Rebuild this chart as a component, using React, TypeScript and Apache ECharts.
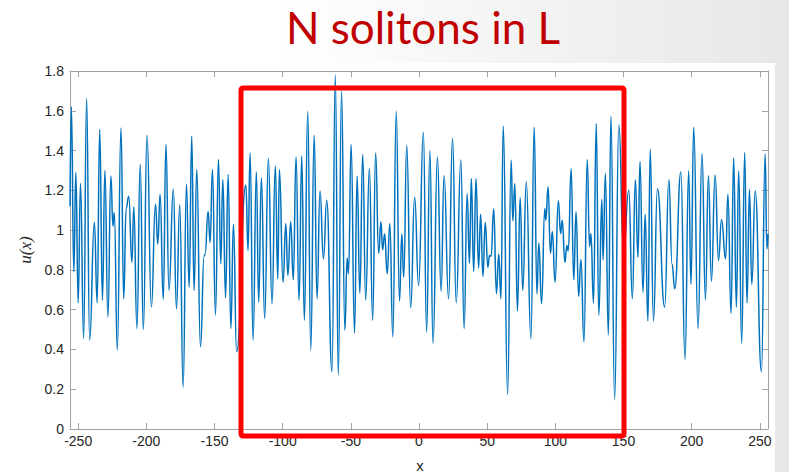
import React, { useEffect, useRef } from "react";
import * as echarts from "echarts";

const titleText = "N solitons in L";
const xAxisName = "x";
const yAxisName = "u(x)";

const xTicks = [-250, -200, -150, -100, -50, 0, 50, 100, 150, 200, 250];
const yTicks = [0, 0.2, 0.4, 0.6, 0.8, 1, 1.2, 1.4, 1.6, 1.8];

// positions (x) of the read extrema of u(x)
const xValues = [
  -256, -255, -253.2, -251.7, -250, -248.3, -246, -243.8, -241.6, -238.1,
  -236.1, -234.2, -232.2, -230.4, -228.2, -226, -224.5, -223.5, -221.3, -218.6,
  -216.6, -214.8, -212.9, -210.6, -209.2, -206.9, -204.5, -202.2, -199.5, -196.3,
  -193.3, -191.6, -189.9, -187.6, -185.6, -183.4, -180.2, -177.9, -175.5, -173,
  -170.6, -168.6, -166.7, -165, -163, -160.3, -157.6, -156.9, -154.7, -153.2,
  -151.5, -149.3, -147.1, -145.4, -143.9, -141.9, -140, -138, -136.1, -133.8,
  -127, -125.4, -123.9, -121.7, -119.3, -117.6, -115.6, -113.2, -110.5, -107.8,
  -105.4, -103.6, -102.4, -99.7, -97.7, -96.2, -94.1, -92.2, -90.2, -88,
  -86, -84.1, -81.6, -79.4, -76.9, -74.8, -72.6, -70.1, -67.7, -63.8,
  -61.4, -59.2, -56.8, -54.4, -52.7, -51.7, -49.8, -47.3, -45.4, -43.4,
  -41.3, -39.1, -36.4, -34, -31.8, -29.6, -27.9, -26.7, -25.2, -23.3,
  -21.4, -19.2, -16.7, -14.3, -12.6, -11.2, -9, -6.1, -3.2, -0.3,
  3.2, 5.6, 8, 10.3, 13.5, 16.2, 18.4, 21.7, 24.6, 27.3,
  30.7, 33.1, 35.3, 37, 38.4, 40.1, 41.8, 43.7, 45.2, 46.9,
  48.6, 50.5, 51.7, 52.9, 54.8, 56.8, 58.5, 60.1, 61.8, 65,
  67.6, 68.8, 70.3, 72.2, 74.2, 76.1, 78.7, 82.1, 84.5, 86.5,
  87.9, 89.9, 92.3, 93, 94.7, 96.4, 97.8, 99.8, 102.2, 103.9,
  105.1, 107, 108.5, 109.5, 111.6, 113.5, 115.2, 117.1, 118.8, 121,
  123.4, 125.1, 126.1, 128, 130, 131.9, 134.1, 135, 136.7, 138.9,
  140.8, 143.5, 146.6, 150, 153.9, 156.5, 158.7, 160.6, 162.1, 164.3,
  165.9, 167.9, 169.6, 172, 174.9, 180.2, 183.3, 185.6, 187.6, 192.1,
  195.1, 197.8, 199.5, 201.5, 204.7, 207.6, 210.1, 212.3, 214.5, 217.2,
  219.7, 221.9, 224.9, 226.6, 228.9, 230.8, 232.8, 234.5, 236.7, 238.9,
  240.6, 242.4, 244.1, 246.6, 251.2, 253.9, 255.2, 256,
];

// u(x) at those positions
const uValues = [
  1.12, 1.62, 0.79, 1.29, 0.635, 1.235, 0.455, 1.663, 0.447, 1.04,
  0.635, 1.505, 0.647, 1.3, 0.563, 1.272, 1.02, 1.088, 0.397, 1.513,
  0.655, 1.11, 1.17, 0.838, 1.118, 0.505, 1.33, 0.5, 1.477, 0.613,
  1.13, 0.93, 1.18, 0.652, 1.43, 0.697, 1.205, 0.605, 1.127, 0.21,
  1.23, 0.713, 1.472, 0.697, 1.305, 0.413, 0.87, 0.88, 1.093, 0.938,
  1.305, 0.572, 1.355, 0.83, 1.255, 0.66, 1.28, 0.505, 1.03, 0.388,
  1.227, 0.897, 1.388, 0.447, 1.292, 0.638, 1.263, 0.555, 1.36, 0.63,
  1.322, 0.755, 1.305, 0.738, 1.033, 0.772, 1.042, 0.75, 1.367, 0.647,
  1.372, 0.547, 1.597, 0.397, 1.477, 0.655, 1.197, 0.855, 1.15, 0.288,
  1.78, 0.272, 1.7, 0.497, 0.86, 0.78, 1.43, 0.483, 1.272, 0.683,
  1.38, 0.647, 1.31, 0.547, 1.388, 0.883, 1.042, 0.9, 0.98, 0.78,
  1.033, 0.463, 1.597, 0.643, 0.98, 0.763, 1.425, 0.61, 1.167, 0.722,
  1.492, 0.488, 1.4, 0.43, 1.368, 0.693, 1.275, 0.655, 1.46, 0.635,
  1.352, 0.505, 1.183, 0.833, 1.26, 0.792, 1.26, 0.81, 1.08, 0.767,
  1.038, 0.813, 0.872, 0.868, 1.107, 0.68, 0.88, 0.655, 1.522, 0.175,
  1.352, 1.047, 1.233, 0.593, 1.163, 0.697, 1.243, 0.455, 1.517, 0.68,
  0.935, 0.63, 1.11, 1.05, 1.217, 0.883, 0.993, 0.738, 1.147, 0.983,
  1.05, 0.838, 0.922, 0.895, 1.31, 0.75, 1.092, 0.667, 0.852, 0.438,
  1.355, 0.917, 0.983, 0.633, 1.535, 0.572, 1.155, 0.85, 1.285, 0.472,
  1.572, 0.147, 1.53, 0.89, 1.2, 0.655, 1.253, 0.863, 1.345, 0.688,
  1.08, 0.543, 1.405, 0.543, 1.208, 0.613, 1.253, 0.83, 0.705, 1.292,
  0.35, 1.297, 0.727, 1.517, 0.505, 1.385, 0.65, 1.275, 0.743, 1.277,
  0.847, 1.052, 0.855, 1.18, 0.58, 1.363, 0.613, 1.297, 0.43, 1.39,
  0.633, 1.205, 0.727, 1.197, 0.288, 1.383, 0.905, 0.98,
];

export default function App() {
  const ref = useRef<HTMLDivElement>(null);

  useEffect(() => {
    if (!ref.current) return;
    const chart = echarts.init(ref.current, null, { renderer: "svg" });
    const data = xValues.map((x, i) => [x, uValues[i]]);
    const axisColor = "#a3a3a3";
    const labelColor = "#262626";
    const labelFont = "Liberation Sans";

    chart.setOption({
      animation: false,
      backgroundColor: {
        type: "linear",
        x: 0,
        y: 0,
        x2: 1,
        y2: 0,
        colorStops: [
          { offset: 0, color: "#ffffff" },
          { offset: 0.35, color: "#ffffff" },
          { offset: 1, color: "#e7e7e7" },
        ],
      },
      grid: { left: 70, right: 21, top: 71, bottom: 43, containLabel: false },
      xAxis: [
        {
          type: "value",
          min: -256,
          max: 256,
          position: "bottom",
          axisLine: { show: true, onZero: false, lineStyle: { color: axisColor, width: 1 } },
          axisTick: { show: true, inside: true, length: 6, customValues: xTicks, lineStyle: { color: axisColor } },
          axisLabel: { customValues: xTicks, color: labelColor, fontSize: 14, fontFamily: labelFont, margin: 5 },
          splitLine: { show: false },
        },
        {
          type: "value",
          min: -256,
          max: 256,
          position: "top",
          axisLine: { show: true, onZero: false, lineStyle: { color: axisColor, width: 1 } },
          axisTick: { show: true, inside: true, length: 6, customValues: xTicks, lineStyle: { color: axisColor } },
          axisLabel: { show: false },
          splitLine: { show: false },
        },
      ],
      yAxis: [
        {
          type: "value",
          min: 0,
          max: 1.8,
          interval: 0.2,
          position: "left",
          axisLine: { show: true, onZero: false, lineStyle: { color: axisColor, width: 1 } },
          axisTick: { show: true, inside: true, length: 6, lineStyle: { color: axisColor } },
          axisLabel: {
            color: labelColor,
            fontSize: 14,
            fontFamily: labelFont,
            margin: 6,
            formatter: (v: number) => String(Math.round(v * 10) / 10),
          },
          splitLine: { show: false },
        },
        {
          type: "value",
          min: 0,
          max: 1.8,
          interval: 0.2,
          position: "right",
          axisLine: { show: true, onZero: false, lineStyle: { color: axisColor, width: 1 } },
          axisTick: { show: true, inside: true, length: 6, lineStyle: { color: axisColor } },
          axisLabel: { show: false },
          splitLine: { show: false },
        },
      ],
      series: [
        {
          type: "line",
          data,
          xAxisIndex: 0,
          yAxisIndex: 0,
          showSymbol: false,
          smooth: 0.5,
          smoothMonotone: "x",
          lineStyle: { color: "#0072BD", width: 1.5 },
          z: 3,
        },
      ],
      graphic: [
        {
          type: "rect",
          z: -10,
          silent: true,
          shape: { x: 0, y: 63, width: 775, height: 409 },
          style: { fill: "#ffffff" },
        },
        {
          type: "text",
          z: 50,
          x: 423,
          y: 27,
          style: {
            text: titleText,
            fill: "#C00000",
            font: "44px Lato",
            textAlign: "center",
            textVerticalAlign: "middle",
          },
        },
        {
          type: "rect",
          z: 50,
          silent: true,
          shape: { x: 241, y: 88, width: 383, height: 348, r: 2 },
          style: { fill: "none", stroke: "#ff0000", lineWidth: 5, lineJoin: "round" },
        },
        {
          type: "text",
          z: 50,
          x: 420,
          y: 465,
          style: {
            text: xAxisName,
            fill: labelColor,
            font: "15px 'Liberation Sans'",
            textAlign: "center",
            textVerticalAlign: "middle",
          },
        },
        {
          type: "text",
          z: 50,
          x: 25,
          y: 250,
          rotation: Math.PI / 2,
          style: {
            text: yAxisName,
            fill: labelColor,
            font: "italic 17px 'Liberation Serif'",
            textAlign: "center",
            textVerticalAlign: "middle",
          },
        },
      ],
    });

    return () => chart.dispose();
  }, []);

  return (
    <div
      ref={ref}
      style={{ position: "absolute", left: 0, top: 0, width: 789, height: 472 }}
    />
  );
}
